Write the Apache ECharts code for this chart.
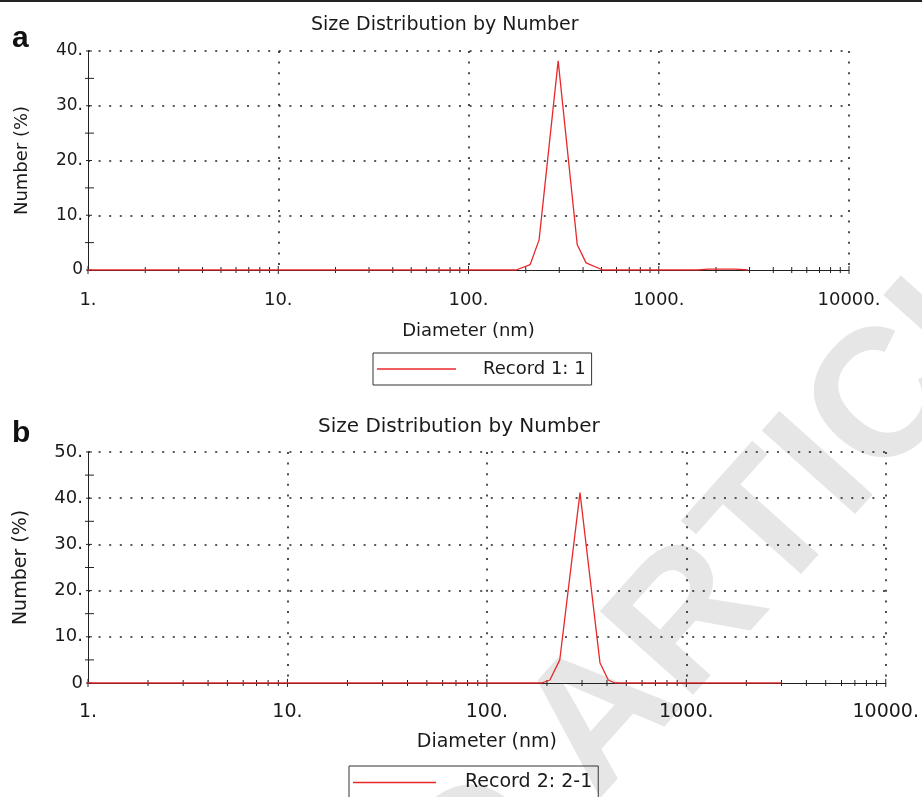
<!DOCTYPE html>
<html>
<head>
<meta charset="utf-8">
<title>Size Distribution by Number</title>
<script src="https://cdn.jsdelivr.net/npm/echarts@6.0.0/dist/echarts.min.js"></script>
<style>
  html, body { margin: 0; padding: 0; background: #fff; }
  #chart { width: 922px; height: 797px; }
</style>
</head>
<body>
<div id="chart"></div>
<script>
// Panel a - Record 1: 1 (diameter in nm, number in %)
const diamA = [1, 178, 211, 235, 296, 373, 415, 508, 1600, 1815, 2516, 2944];
const numA  = [0, 0, 1.0, 5.5, 38.2, 4.6, 1.3, 0, 0, 0.15, 0.15, 0];

// Panel b - Record 2: 2-1
const diamB = [1, 188, 207, 232, 293, 369, 406, 438, 3000];
const numB  = [0, 0, 0.65, 5.0, 41.2, 4.4, 0.65, 0, 0];

// axis ticks
const xMajorTicks = [1, 10, 100, 1000, 10000];
const xMinorTicks = [2, 3, 4, 5, 6, 7, 8, 9,
                     20, 30, 40, 50, 60, 70, 80, 90,
                     200, 300, 400, 500, 600, 700, 800, 900,
                     2000, 3000, 4000, 5000, 6000, 7000, 8000, 9000];
const yMajorTicksA = [0, 10, 20, 30, 40];
const yMinorTicksA = [5, 15, 25, 35];
const yMajorTicksB = [0, 10, 20, 30, 40, 50];
const yMinorTicksB = [5, 15, 25, 35, 45];

const FONT = '"DejaVu Sans", sans-serif';
const RED = '#e8282b';
const INK = '#1a1a1a';

const chartInstance = echarts.init(document.getElementById('chart'));

const xAxisFor = (gridIndex, fontSize, labelMargin, nameGap) => ({
    type: 'log',
    logBase: 10,
    gridIndex: gridIndex,
    min: 1,
    max: 10000,
    splitNumber: 4,
    name: 'Diameter (nm)',
    nameLocation: 'middle',
    nameGap: nameGap,
    nameTextStyle: { fontFamily: FONT, fontSize: fontSize, color: INK },
    axisLine: { show: true, lineStyle: { color: '#222', width: 1 } },
    axisTick: { show: false },
    axisLabel: {
        formatter: (v) => Math.round(v) + '.',
        fontFamily: FONT, fontSize: fontSize, color: INK, margin: labelMargin
    },
    splitLine: { show: true, showMinLine: false, lineStyle: { color: '#222', type: [2, 8.6], width: 1.6 } }
});

const yAxisFor = (gridIndex, max, fontSize, nameGap) => ({
    type: 'value',
    gridIndex: gridIndex,
    min: 0,
    max: max,
    interval: 10,
    name: 'Number (%)',
    nameLocation: 'middle',
    nameRotate: 90,
    nameGap: nameGap,
    nameTextStyle: { fontFamily: FONT, fontSize: fontSize, color: INK },
    axisLine: { show: true, lineStyle: { color: '#222', width: 1 } },
    axisTick: { show: false },
    axisLabel: {
        formatter: (v) => v === 0 ? '0' : v + '.',
        fontFamily: FONT, fontSize: fontSize - 1, color: INK, margin: 5,
        padding: [8, 0, 0, 0]
    },
    splitLine: { show: true, showMinLine: false, lineStyle: { color: '#222', type: [2, 8.6], width: 1.6 } }
});

// short crossing ticks drawn through the axis scales
const tickSeries = (gridIndex, points, isX, before, after) => ({
    type: 'custom',
    xAxisIndex: gridIndex,
    yAxisIndex: gridIndex,
    silent: true,
    clip: false,
    z: 3,
    data: points,
    renderItem: (params, api) => {
        const p = api.coord([api.value(0), api.value(1)]);
        const shape = isX
            ? { x1: p[0], y1: p[1] - before, x2: p[0], y2: p[1] + after }
            : { x1: p[0] - before, y1: p[1], x2: p[0] + after, y2: p[1] };
        return { type: 'line', shape: shape, style: { stroke: '#222', lineWidth: 1 } };
    }
});

const option = {
    animation: false,
    backgroundColor: '#fff',
    title: [
        { text: 'Size Distribution by Number', left: 311, top: 16, padding: 0,
          textStyle: { fontFamily: FONT, fontSize: 19, fontWeight: 'normal', color: INK } },
        { text: 'Size Distribution by Number', left: 318, top: 417, padding: 0,
          textStyle: { fontFamily: FONT, fontSize: 20, fontWeight: 'normal', color: INK } }
    ],
    legend: [
        {
            data: [{ name: 'Record 1: 1', icon: 'rect' }], left: 373, top: 353, orient: 'horizontal',
            selectedMode: false, padding: [7, 6, 7, 4],
            borderColor: '#333', borderWidth: 1,
            itemWidth: 79, itemHeight: 1.5,
            textStyle: { fontFamily: FONT, fontSize: 18, color: INK, padding: [0, 0, 0, 22] }
        },
        {
            data: [{ name: 'Record 2: 2-1', icon: 'rect' }], left: 349, top: 766, orient: 'horizontal',
            selectedMode: false, padding: [7, 6, 7, 4],
            borderColor: '#333', borderWidth: 1,
            itemWidth: 83, itemHeight: 1.5,
            textStyle: { fontFamily: FONT, fontSize: 19, color: INK, padding: [0, 0, 0, 24] }
        }
    ],
    grid: [
        { left: 88, top: 51, width: 761, height: 219 },
        { left: 88, top: 452, width: 798, height: 231 }
    ],
    xAxis: [xAxisFor(0, 18, 21, 52), xAxisFor(1, 19, 20, 50)],
    yAxis: [yAxisFor(0, 40, 18, 57), yAxisFor(1, 50, 19, 57)],
    graphic: [
        { type: 'rect', shape: { x: 0, y: 0, width: 922, height: 2 }, style: { fill: '#222' }, silent: true },
        { type: 'text', x: 12, y: 24, silent: true,
          style: { text: 'a', font: 'bold 30px "Liberation Sans", Arial, sans-serif', fill: '#111' } },
        { type: 'text', x: 12, y: 419, silent: true,
          style: { text: 'b', font: 'bold 30px "Liberation Sans", Arial, sans-serif', fill: '#111' } },
        {
            type: 'group', x: 560, y: 768, rotation: 0.84, z: -100, silent: true,
            children: [
                { type: 'text', z: -100, style: { text: 'RETRACTED ', x: 0, y: 0, textAlign: 'right', textVerticalAlign: 'middle',
                  font: 'bold 182px "Liberation Sans", Arial, sans-serif', fill: '#e6e6e6' } },
                { type: 'text', z: -100, style: { text: 'ARTICLE', x: 0, y: 0, textAlign: 'left', textVerticalAlign: 'middle',
                  font: 'bold 182px "Liberation Sans", Arial, sans-serif', fill: '#e6e6e6' } }
            ]
        }
    ],
    series: [
        {
            name: 'Record 1: 1',
            type: 'line',
            xAxisIndex: 0, yAxisIndex: 0,
            data: diamA.map((d, i) => [d, numA[i]]),
            symbol: 'none',
            lineStyle: { color: RED, width: 1.3 },
            itemStyle: { color: RED },
            z: 4
        },
        {
            name: 'Record 2: 2-1',
            type: 'line',
            xAxisIndex: 1, yAxisIndex: 1,
            data: diamB.map((d, i) => [d, numB[i]]),
            symbol: 'none',
            lineStyle: { color: RED, width: 1.3 },
            itemStyle: { color: RED },
            z: 4
        },
        tickSeries(0, xMajorTicks.map(v => [v, 0]), true, 4, 4),
        tickSeries(0, xMinorTicks.map(v => [v, 0]), true, 3, 3),
        tickSeries(0, yMajorTicksA.map(v => [1, v]), false, 2, 4),
        tickSeries(0, yMinorTicksA.map(v => [1, v]), false, 3, 6),
        tickSeries(1, xMajorTicks.map(v => [v, 0]), true, 4, 4),
        tickSeries(1, xMinorTicks.map(v => [v, 0]), true, 3, 3),
        tickSeries(1, yMajorTicksB.map(v => [1, v]), false, 2, 4),
        tickSeries(1, yMinorTicksB.map(v => [1, v]), false, 3, 6)
    ]
};

chartInstance.setOption(option);
</script>
</body>
</html>
